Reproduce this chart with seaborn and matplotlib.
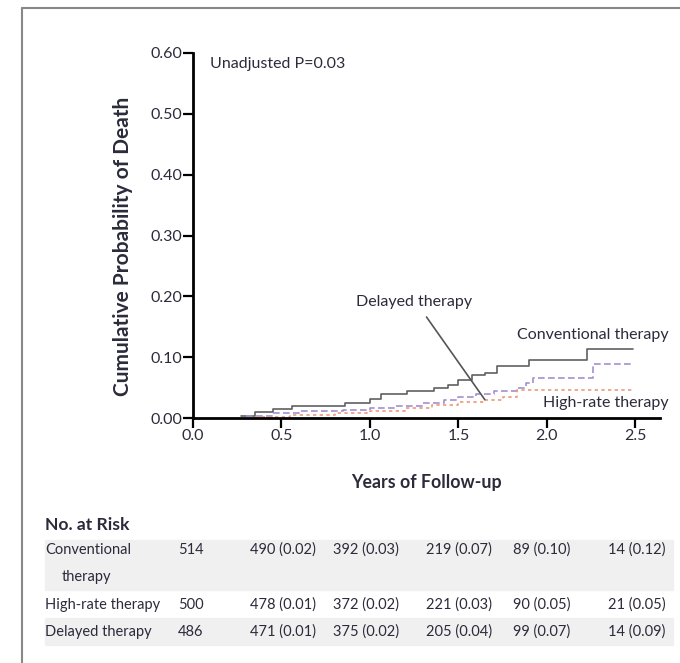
import pandas as pd
import matplotlib
matplotlib.use("Agg")
import matplotlib.pyplot as plt
import seaborn as sns
from matplotlib.lines import Line2D
from matplotlib.patches import Rectangle

# 곡선 데이터
conv_t = [0.27, 0.35, 0.45, 0.56, 0.86, 1.0, 1.06, 1.21, 1.36, 1.44, 1.5, 1.58, 1.65, 1.72, 1.9, 2.23, 2.49]
conv_p = [0.003, 0.01, 0.015, 0.02, 0.025, 0.032, 0.04, 0.044, 0.049, 0.055, 0.062, 0.07, 0.074, 0.086, 0.096, 0.113, 0.113]
delayed_t = [0.3, 0.45, 0.6, 0.85, 1.0, 1.15, 1.3, 1.42, 1.5, 1.6, 1.7, 1.83, 1.88, 1.92, 2.26, 2.49]
delayed_p = [0.003, 0.008, 0.012, 0.013, 0.016, 0.02, 0.025, 0.03, 0.034, 0.04, 0.045, 0.05, 0.058, 0.066, 0.088, 0.088]
high_t = [0.35, 0.55, 0.8, 1.0, 1.2, 1.35, 1.5, 1.65, 1.75, 1.83, 2.49]
high_p = [0.002, 0.005, 0.008, 0.011, 0.017, 0.022, 0.026, 0.03, 0.034, 0.046, 0.046]

# 위험군 표
risk_groups = ["Conventional", "High-rate therapy", "Delayed therapy"]
risk_start = ["514", "500", "486"]
risk_conv = ["490 (0.02)", "392 (0.03)", "219 (0.07)", "89 (0.10)", "14 (0.12)"]
risk_high = ["478 (0.01)", "372 (0.02)", "221 (0.03)", "90 (0.05)", "21 (0.05)"]
risk_delayed = ["471 (0.01)", "375 (0.02)", "205 (0.04)", "99 (0.07)", "14 (0.09)"]

y_ticks = [0.0, 0.1, 0.2, 0.3, 0.4, 0.5, 0.6]
x_ticks = [0.0, 0.5, 1.0, 1.5, 2.0, 2.5]

df = pd.concat([
    pd.DataFrame({"t": conv_t, "p": conv_p, "grp": "Conventional therapy"}),
    pd.DataFrame({"t": delayed_t, "p": delayed_p, "grp": "Delayed therapy"}),
    pd.DataFrame({"t": high_t, "p": high_p, "grp": "High-rate therapy"}),
])

sns.set_theme(style="white")
plt.rcParams['font.family'] = ['Lato', 'DejaVu Sans']
txt = '#2b2b3b'
fs = 11.5
tfs = 10.5

W, H = 680, 663
fig = plt.figure(figsize=(6.8, 6.63), dpi=100)
ax = fig.add_axes([193 / W, 1 - 418 / H, 467 / W, 365 / H])

palette = {"Conventional therapy": "#606060", "Delayed therapy": "#a58fd0", "High-rate therapy": "#ee9a7a"}
dashes = {"Conventional therapy": "", "Delayed therapy": (4, 2), "High-rate therapy": (2, 2)}
sns.lineplot(data=df, x="t", y="p", hue="grp", style="grp", palette=palette, dashes=dashes,
             drawstyle="steps-post", linewidth=1.2, legend=False, ax=ax, estimator=None)

ax.set_xlim(0, 2.64)
ax.set_ylim(0, 0.6)
ax.set_xticks(x_ticks)
ax.set_xticklabels([f"{v:.1f}" for v in x_ticks], fontsize=fs, color=txt)
ax.set_yticks(y_ticks)
ax.set_yticklabels([f"{v:.2f}" for v in y_ticks], fontsize=fs, color=txt)
ax.tick_params(direction="out", length=7, width=1.6, color="black", bottom=True, left=True, pad=1)
sns.despine(ax=ax)
for s in ["left", "bottom"]:
    ax.spines[s].set_linewidth(2)
    ax.spines[s].set_color("black")

ax.set_xlabel("Years of Follow-up", fontsize=12.8, fontweight="bold", color=txt)
ax.set_ylabel("Cumulative Probability of Death", fontsize=15, fontweight="bold", color=txt)
ax.xaxis.set_label_coords(0.5, (418 - 474) / 365)
ax.yaxis.set_label_coords((133 - 193) / 467, 0.47)

ax.text(0.096, 0.582, "Unadjusted P=0.03", fontsize=fs, color=txt, va="center")
ax.text(1.25, 0.19, "Delayed therapy", fontsize=fs, color=txt, ha="center", va="center")
ax.annotate("", xy=(1.65, 0.03), xytext=(1.32, 0.166),
            arrowprops=dict(arrowstyle="-", color="#555555", lw=1.2, shrinkA=0, shrinkB=0))
ax.text(2.687, 0.137, "Conventional therapy", fontsize=fs, color=txt, ha="right", va="center")
ax.text(2.687, 0.025, "High-rate therapy", fontsize=fs, color=txt, ha="right", va="center")

# 위험군 표 (그림 좌표, 픽셀 기준)
def px(x, y):
    return x / W, 1 - y / H

fig.text(*px(45, 525), "No. at Risk", fontsize=12.6, fontweight="bold", color=txt, va="center")
row_y = [550, 605, 632]
col_x = [283, 366, 459, 542, 637]
fig.add_artist(Rectangle(px(45, 590), 628 / W, 50 / H, transform=fig.transFigure, color="#f0f0f0", zorder=0))
fig.add_artist(Rectangle(px(45, 645), 628 / W, 27 / H, transform=fig.transFigure, color="#f0f0f0", zorder=0))
fig.text(*px(62, 577), "therapy", fontsize=tfs, color=txt, va="center")
for yy, name, start, vals in zip(row_y, risk_groups, risk_start, [risk_conv, risk_high, risk_delayed]):
    fig.text(*px(45, yy), name, fontsize=tfs, color=txt, va="center")
    fig.text(*px(191, yy), start, fontsize=tfs, color=txt, ha="center", va="center")
    for xx, v in zip(col_x, vals):
        fig.text(*px(xx, yy), v, fontsize=tfs, color=txt, ha="center", va="center")

# 바깥 테두리
fig.add_artist(Line2D([22 / W, 22 / W], [0, 1 - 8 / H], transform=fig.transFigure, color="#888888", lw=1.5))
fig.add_artist(Line2D([22 / W, 1], [1 - 8 / H, 1 - 8 / H], transform=fig.transFigure, color="#888888", lw=1.5))

fig.savefig("out.png", dpi=100)
